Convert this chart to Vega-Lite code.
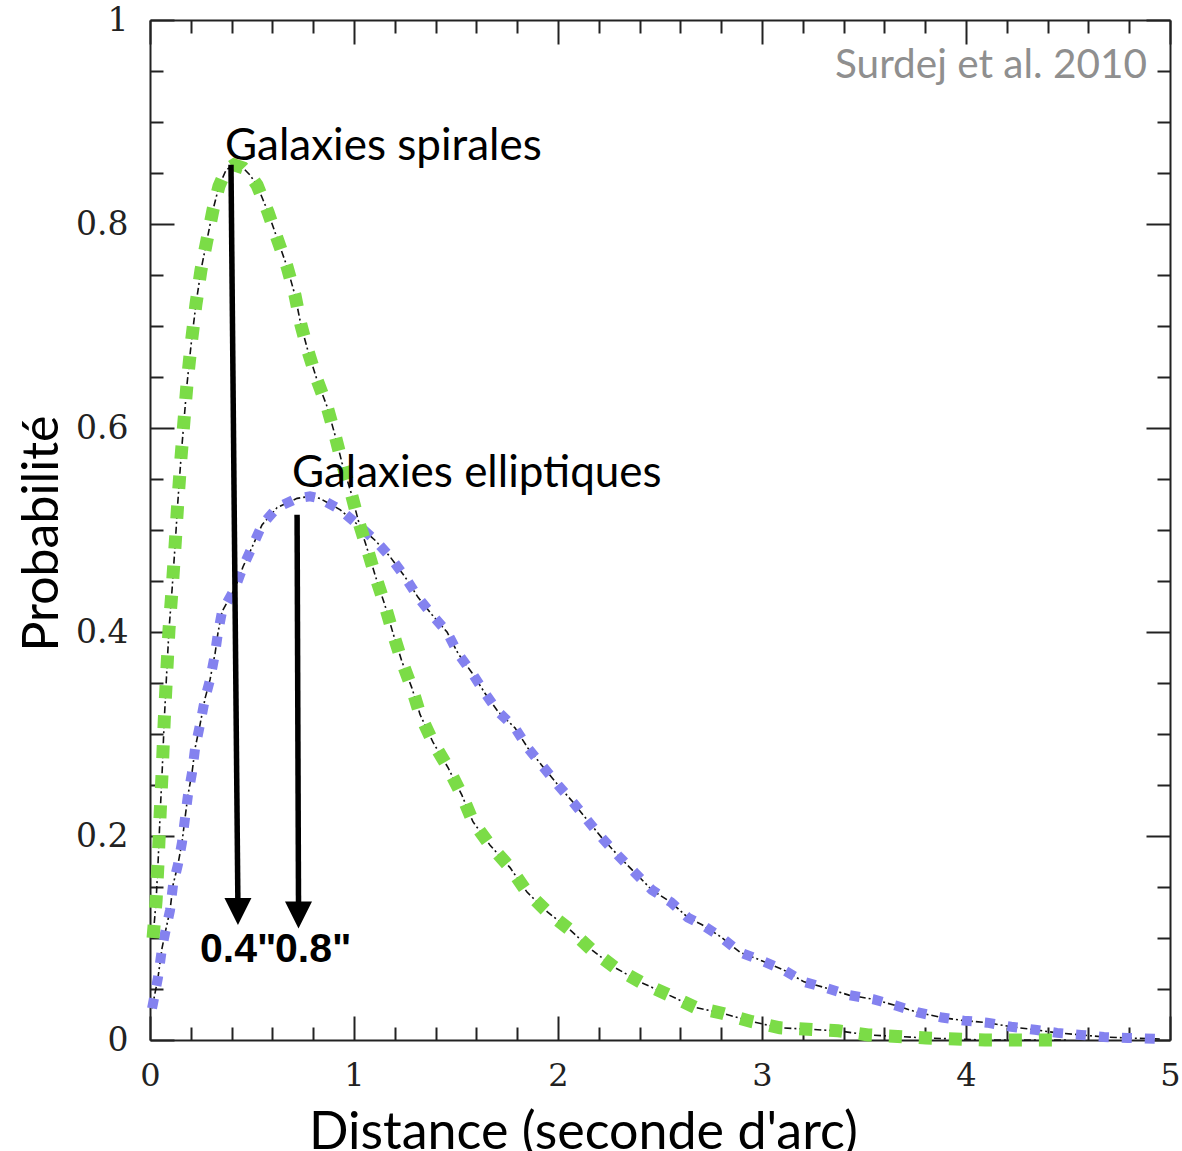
{
  "$schema": "https://vega.github.io/schema/vega-lite/v6.json",
  "width": 1020,
  "height": 1020,
  "autosize": {"type": "none"},
  "padding": {"left": 150, "top": 20, "right": 12, "bottom": 111},
  "background": "white",
  "config": {"view": {"stroke": null}},
  "datasets": {
    "curves": [
      {"series": "spirales", "x": 0.015, "y": 0.10},
      {"series": "spirales", "x": 0.03, "y": 0.137},
      {"series": "spirales", "x": 0.04, "y": 0.176},
      {"series": "spirales", "x": 0.05, "y": 0.223},
      {"series": "spirales", "x": 0.06, "y": 0.265},
      {"series": "spirales", "x": 0.07, "y": 0.314},
      {"series": "spirales", "x": 0.08, "y": 0.353},
      {"series": "spirales", "x": 0.093, "y": 0.402},
      {"series": "spirales", "x": 0.108, "y": 0.441},
      {"series": "spirales", "x": 0.123, "y": 0.485},
      {"series": "spirales", "x": 0.137, "y": 0.529},
      {"series": "spirales", "x": 0.152, "y": 0.571},
      {"series": "spirales", "x": 0.167, "y": 0.608},
      {"series": "spirales", "x": 0.181, "y": 0.642},
      {"series": "spirales", "x": 0.201, "y": 0.681},
      {"series": "spirales", "x": 0.225, "y": 0.721},
      {"series": "spirales", "x": 0.25, "y": 0.755},
      {"series": "spirales", "x": 0.279, "y": 0.784},
      {"series": "spirales", "x": 0.309, "y": 0.814},
      {"series": "spirales", "x": 0.338, "y": 0.837},
      {"series": "spirales", "x": 0.373, "y": 0.853},
      {"series": "spirales", "x": 0.412, "y": 0.858},
      {"series": "spirales", "x": 0.456, "y": 0.855},
      {"series": "spirales", "x": 0.49, "y": 0.848},
      {"series": "spirales", "x": 0.525, "y": 0.838},
      {"series": "spirales", "x": 0.578, "y": 0.812},
      {"series": "spirales", "x": 0.623, "y": 0.786},
      {"series": "spirales", "x": 0.672, "y": 0.758},
      {"series": "spirales", "x": 0.711, "y": 0.730},
      {"series": "spirales", "x": 0.74, "y": 0.701},
      {"series": "spirales", "x": 0.775, "y": 0.675},
      {"series": "spirales", "x": 0.819, "y": 0.647},
      {"series": "spirales", "x": 0.868, "y": 0.621},
      {"series": "spirales", "x": 0.907, "y": 0.593},
      {"series": "spirales", "x": 0.941, "y": 0.566},
      {"series": "spirales", "x": 0.985, "y": 0.537},
      {"series": "spirales", "x": 1.02, "y": 0.510},
      {"series": "spirales", "x": 1.064, "y": 0.482},
      {"series": "spirales", "x": 1.103, "y": 0.456},
      {"series": "spirales", "x": 1.152, "y": 0.426},
      {"series": "spirales", "x": 1.191, "y": 0.399},
      {"series": "spirales", "x": 1.235, "y": 0.371},
      {"series": "spirales", "x": 1.284, "y": 0.345},
      {"series": "spirales", "x": 1.324, "y": 0.319},
      {"series": "spirales", "x": 1.387, "y": 0.292},
      {"series": "spirales", "x": 1.461, "y": 0.267},
      {"series": "spirales", "x": 1.529, "y": 0.240},
      {"series": "spirales", "x": 1.583, "y": 0.214},
      {"series": "spirales", "x": 1.667, "y": 0.191},
      {"series": "spirales", "x": 1.765, "y": 0.169},
      {"series": "spirales", "x": 1.848, "y": 0.145},
      {"series": "spirales", "x": 1.951, "y": 0.125},
      {"series": "spirales", "x": 2.059, "y": 0.108},
      {"series": "spirales", "x": 2.167, "y": 0.088},
      {"series": "spirales", "x": 2.279, "y": 0.071},
      {"series": "spirales", "x": 2.412, "y": 0.056},
      {"series": "spirales", "x": 2.544, "y": 0.044},
      {"series": "spirales", "x": 2.672, "y": 0.032},
      {"series": "spirales", "x": 2.809, "y": 0.026},
      {"series": "spirales", "x": 2.951, "y": 0.018},
      {"series": "spirales", "x": 3.088, "y": 0.012},
      {"series": "spirales", "x": 3.373, "y": 0.009},
      {"series": "spirales", "x": 3.52, "y": 0.005},
      {"series": "spirales", "x": 3.804, "y": 0.002},
      {"series": "spirales", "x": 4.093, "y": 0.0},
      {"series": "spirales", "x": 4.5, "y": 0.0},
      {"series": "elliptiques", "x": 0.01, "y": 0.031},
      {"series": "elliptiques", "x": 0.015, "y": 0.036},
      {"series": "elliptiques", "x": 0.039, "y": 0.061},
      {"series": "elliptiques", "x": 0.059, "y": 0.090},
      {"series": "elliptiques", "x": 0.074, "y": 0.105},
      {"series": "elliptiques", "x": 0.098, "y": 0.127},
      {"series": "elliptiques", "x": 0.113, "y": 0.152},
      {"series": "elliptiques", "x": 0.137, "y": 0.172},
      {"series": "elliptiques", "x": 0.157, "y": 0.194},
      {"series": "elliptiques", "x": 0.172, "y": 0.218},
      {"series": "elliptiques", "x": 0.186, "y": 0.240},
      {"series": "elliptiques", "x": 0.206, "y": 0.262},
      {"series": "elliptiques", "x": 0.221, "y": 0.286},
      {"series": "elliptiques", "x": 0.245, "y": 0.309},
      {"series": "elliptiques", "x": 0.270, "y": 0.335},
      {"series": "elliptiques", "x": 0.294, "y": 0.353},
      {"series": "elliptiques", "x": 0.319, "y": 0.379},
      {"series": "elliptiques", "x": 0.333, "y": 0.399},
      {"series": "elliptiques", "x": 0.353, "y": 0.420},
      {"series": "elliptiques", "x": 0.417, "y": 0.443},
      {"series": "elliptiques", "x": 0.456, "y": 0.464},
      {"series": "elliptiques", "x": 0.50, "y": 0.483},
      {"series": "elliptiques", "x": 0.549, "y": 0.505},
      {"series": "elliptiques", "x": 0.623, "y": 0.522},
      {"series": "elliptiques", "x": 0.721, "y": 0.531},
      {"series": "elliptiques", "x": 0.784, "y": 0.533},
      {"series": "elliptiques", "x": 0.833, "y": 0.531},
      {"series": "elliptiques", "x": 0.931, "y": 0.520},
      {"series": "elliptiques", "x": 1.02, "y": 0.505},
      {"series": "elliptiques", "x": 1.103, "y": 0.490},
      {"series": "elliptiques", "x": 1.176, "y": 0.474},
      {"series": "elliptiques", "x": 1.25, "y": 0.454},
      {"series": "elliptiques", "x": 1.314, "y": 0.434},
      {"series": "elliptiques", "x": 1.382, "y": 0.417},
      {"series": "elliptiques", "x": 1.456, "y": 0.400},
      {"series": "elliptiques", "x": 1.51, "y": 0.379},
      {"series": "elliptiques", "x": 1.578, "y": 0.360},
      {"series": "elliptiques", "x": 1.642, "y": 0.340},
      {"series": "elliptiques", "x": 1.706, "y": 0.322},
      {"series": "elliptiques", "x": 1.789, "y": 0.306},
      {"series": "elliptiques", "x": 1.853, "y": 0.286},
      {"series": "elliptiques", "x": 1.926, "y": 0.268},
      {"series": "elliptiques", "x": 2.0, "y": 0.250},
      {"series": "elliptiques", "x": 2.074, "y": 0.233},
      {"series": "elliptiques", "x": 2.142, "y": 0.216},
      {"series": "elliptiques", "x": 2.216, "y": 0.198},
      {"series": "elliptiques", "x": 2.294, "y": 0.181},
      {"series": "elliptiques", "x": 2.377, "y": 0.164},
      {"series": "elliptiques", "x": 2.461, "y": 0.147},
      {"series": "elliptiques", "x": 2.554, "y": 0.135},
      {"series": "elliptiques", "x": 2.637, "y": 0.120},
      {"series": "elliptiques", "x": 2.706, "y": 0.113},
      {"series": "elliptiques", "x": 2.799, "y": 0.101},
      {"series": "elliptiques", "x": 2.892, "y": 0.086},
      {"series": "elliptiques", "x": 2.995, "y": 0.078},
      {"series": "elliptiques", "x": 3.103, "y": 0.069},
      {"series": "elliptiques", "x": 3.206, "y": 0.057},
      {"series": "elliptiques", "x": 3.314, "y": 0.051},
      {"series": "elliptiques", "x": 3.426, "y": 0.044},
      {"series": "elliptiques", "x": 3.544, "y": 0.040},
      {"series": "elliptiques", "x": 3.652, "y": 0.034},
      {"series": "elliptiques", "x": 3.765, "y": 0.027},
      {"series": "elliptiques", "x": 3.882, "y": 0.022},
      {"series": "elliptiques", "x": 3.99, "y": 0.019},
      {"series": "elliptiques", "x": 4.103, "y": 0.017},
      {"series": "elliptiques", "x": 4.221, "y": 0.013},
      {"series": "elliptiques", "x": 4.338, "y": 0.010},
      {"series": "elliptiques", "x": 4.446, "y": 0.007},
      {"series": "elliptiques", "x": 4.564, "y": 0.005},
      {"series": "elliptiques", "x": 4.676, "y": 0.003},
      {"series": "elliptiques", "x": 4.794, "y": 0.002},
      {"series": "elliptiques", "x": 4.95, "y": 0.001}
    ],
    "arrows": [
      {"series": "spirales", "x": 0.397, "y": 0.858, "x2": 0.431, "y2": 0.13},
      {"series": "elliptiques", "x": 0.721, "y": 0.515, "x2": 0.728, "y2": 0.13}
    ],
    "heads": [
      {"series": "spirales", "x": 0.431, "y": 0.126},
      {"series": "elliptiques", "x": 0.728, "y": 0.1225}
    ],
    "notes": [
      {"role": "annotation", "text": "Galaxies spirales", "x": 0.368, "y": 0.863},
      {"role": "annotation", "text": "Galaxies elliptiques", "x": 0.696, "y": 0.542},
      {"role": "value", "text": "0.4\"", "x": 0.245, "y": 0.0765},
      {"role": "value", "text": "0.8\"", "x": 0.613, "y": 0.0765},
      {"role": "credit", "text": "Surdej et al. 2010", "x": 4.887, "y": 0.943}
    ]
  },
  "resolve": {"axis": {"x": "independent", "y": "independent"}},
  "layer": [
    {
      "data": {"name": "curves"},
      "mark": {"type": "line", "color": "#111111", "strokeWidth": 1.6, "strokeDash": [7, 3, 2, 3]},
      "encoding": {
        "x": {
          "field": "x", "type": "quantitative",
          "scale": {"domain": [0, 5], "nice": false, "zero": false},
          "axis": {
            "orient": "bottom",
            "values": [0, 0.2, 0.4, 0.6, 0.8, 1, 1.2, 1.4, 1.6, 1.8, 2, 2.2, 2.4, 2.6, 2.8, 3, 3.2, 3.4, 3.6, 3.8, 4, 4.2, 4.4, 4.6, 4.8, 5],
            "labelExpr": "abs(datum.value - round(datum.value)) < 0.001 ? format(datum.value, 'd') : ''",
            "tickSize": {"condition": {"test": "abs(datum.value - round(datum.value)) < 0.001", "value": -24}, "value": -13},
            "tickWidth": 2, "tickColor": "#222222",
            "domainColor": "#222222", "domainWidth": 2,
            "grid": false,
            "labelFont": "DejaVu Serif", "labelFontSize": 32, "labelColor": "#222222",
            "labelPadding": 44, "labelFlush": false, "labelOverlap": false,
            "title": "Distance (seconde d'arc)",
            "titleFont": "Lato", "titleFontSize": 52, "titleFontWeight": "normal", "titleColor": "#000000",
            "titleX": 433, "titleY": 108, "titleBaseline": "alphabetic", "titleAlign": "center"
          }
        },
        "y": {
          "field": "y", "type": "quantitative",
          "scale": {"domain": [0, 1], "nice": false, "zero": false},
          "axis": {
            "orient": "left",
            "values": [0, 0.05, 0.1, 0.15, 0.2, 0.25, 0.3, 0.35, 0.4, 0.45, 0.5, 0.55, 0.6, 0.65, 0.7, 0.75, 0.8, 0.85, 0.9, 0.95, 1],
            "labelExpr": "abs(datum.value * 5 - round(datum.value * 5)) < 0.001 ? format(datum.value, '~g') : ''",
            "tickSize": {"condition": {"test": "abs(datum.value * 5 - round(datum.value * 5)) < 0.001", "value": -24}, "value": -13},
            "tickWidth": 2, "tickColor": "#222222",
            "domainColor": "#222222", "domainWidth": 2,
            "grid": false,
            "labelFont": "DejaVu Serif", "labelFontSize": 33, "labelColor": "#222222",
            "labelPadding": 46, "labelFlush": false, "labelOverlap": false,
            "title": "Probabilité",
            "titleFont": "Lato", "titleFontSize": 50, "titleFontWeight": "normal", "titleColor": "#000000",
            "titleAngle": -90, "titleX": -93, "titleY": 513, "titleBaseline": "alphabetic", "titleAlign": "center"
          }
        },
        "detail": {"field": "series", "type": "nominal"}
      }
    },
    {
      "data": {"name": "curves"},
      "transform": [{"filter": "datum.series === 'elliptiques'"}],
      "mark": {"type": "line", "color": "#8482ef", "strokeWidth": 10, "strokeDash": [10, 13]},
      "encoding": {
        "x": {
          "field": "x", "type": "quantitative",
          "axis": {
            "orient": "top",
            "values": [0, 0.2, 0.4, 0.6, 0.8, 1, 1.2, 1.4, 1.6, 1.8, 2, 2.2, 2.4, 2.6, 2.8, 3, 3.2, 3.4, 3.6, 3.8, 4, 4.2, 4.4, 4.6, 4.8, 5],
            "labels": false,
            "tickSize": {"condition": {"test": "abs(datum.value - round(datum.value)) < 0.001", "value": -24}, "value": -13},
            "tickWidth": 2, "tickColor": "#222222",
            "domainColor": "#222222", "domainWidth": 2,
            "grid": false, "title": null
          }
        },
        "y": {
          "field": "y", "type": "quantitative",
          "axis": {
            "orient": "right",
            "values": [0, 0.05, 0.1, 0.15, 0.2, 0.25, 0.3, 0.35, 0.4, 0.45, 0.5, 0.55, 0.6, 0.65, 0.7, 0.75, 0.8, 0.85, 0.9, 0.95, 1],
            "labels": false,
            "tickSize": {"condition": {"test": "abs(datum.value * 5 - round(datum.value * 5)) < 0.001", "value": -24}, "value": -13},
            "tickWidth": 2, "tickColor": "#222222",
            "domainColor": "#222222", "domainWidth": 2,
            "grid": false, "title": null
          }
        }
      }
    },
    {
      "data": {"name": "curves"},
      "transform": [{"filter": "datum.series === 'spirales'"}],
      "mark": {"type": "line", "color": "#7bdc47", "strokeWidth": 13, "strokeDash": [13, 17]},
      "encoding": {
        "x": {"field": "x", "type": "quantitative", "axis": null},
        "y": {"field": "y", "type": "quantitative", "axis": null}
      }
    },
    {
      "data": {"name": "arrows"},
      "mark": {"type": "rule", "color": "#000000", "strokeWidth": 5.5},
      "encoding": {
        "x": {"field": "x", "type": "quantitative", "axis": null},
        "y": {"field": "y", "type": "quantitative", "axis": null},
        "x2": {"field": "x2"},
        "y2": {"field": "y2"}
      }
    },
    {
      "data": {"name": "heads"},
      "mark": {"type": "point", "shape": "M-1,-1L1,-1L0,1Z", "filled": true, "color": "#000000", "opacity": 1, "size": 729, "strokeWidth": 0},
      "encoding": {
        "x": {"field": "x", "type": "quantitative", "axis": null},
        "y": {"field": "y", "type": "quantitative", "axis": null}
      }
    },
    {
      "data": {"name": "notes"},
      "transform": [{"filter": "datum.role === 'annotation'"}],
      "mark": {"type": "text", "font": "Lato", "fontSize": 44, "color": "#000000", "align": "left", "baseline": "alphabetic"},
      "encoding": {
        "x": {"field": "x", "type": "quantitative", "axis": null},
        "y": {"field": "y", "type": "quantitative", "axis": null},
        "text": {"field": "text"}
      }
    },
    {
      "data": {"name": "notes"},
      "transform": [{"filter": "datum.role === 'value'"}],
      "mark": {"type": "text", "font": "Liberation Sans", "fontWeight": "bold", "fontSize": 41, "color": "#000000", "align": "left", "baseline": "alphabetic"},
      "encoding": {
        "x": {"field": "x", "type": "quantitative", "axis": null},
        "y": {"field": "y", "type": "quantitative", "axis": null},
        "text": {"field": "text"}
      }
    },
    {
      "data": {"name": "notes"},
      "transform": [{"filter": "datum.role === 'credit'"}],
      "mark": {"type": "text", "font": "Lato", "fontSize": 40.5, "color": "#8f8f8f", "align": "right", "baseline": "alphabetic"},
      "encoding": {
        "x": {"field": "x", "type": "quantitative", "axis": null},
        "y": {"field": "y", "type": "quantitative", "axis": null},
        "text": {"field": "text"}
      }
    }
  ]
}
